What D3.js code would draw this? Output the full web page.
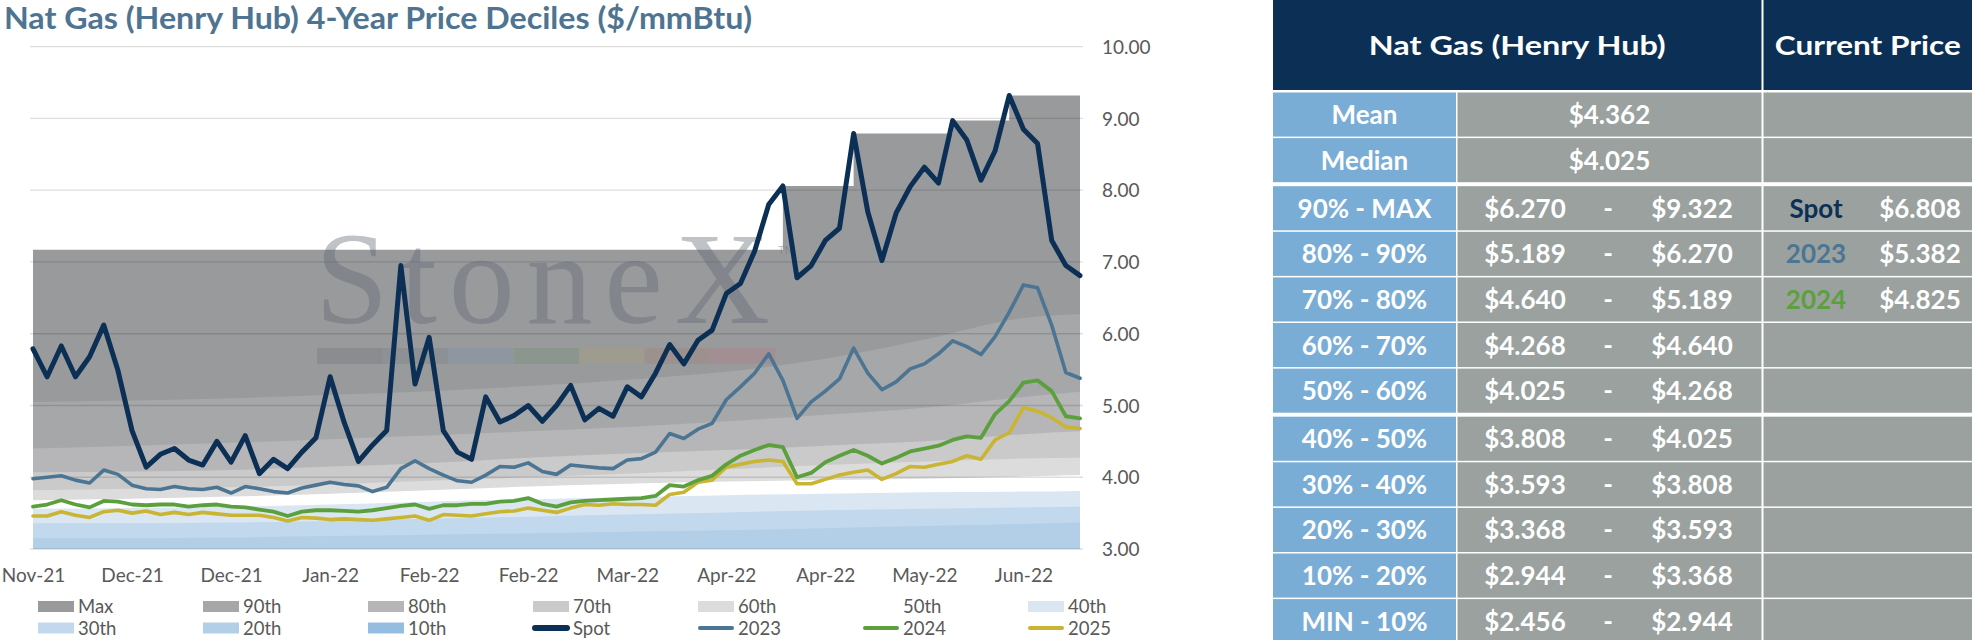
<!DOCTYPE html>
<html lang="en">
<head>
<meta charset="UTF-8">
<title>Nat Gas (Henry Hub) 4-Year Price Deciles</title>
<style>
  body { margin: 0; background: #fff; }
  svg { display: block; font-family: Lato, "Open Sans", sans-serif; }
  .grid line { stroke: rgba(0, 0, 0, 0.13); stroke-width: 1.3px; }
  .axis text { fill: #595959; font-size: 19px; font-family: Lato, sans-serif; }
  .legend text { fill: #595959; font-size: 18.5px; }
  .tbl text { fill: #fff; font-size: 26px; font-weight: 700; text-anchor: middle; }
</style>
</head>
<body>
<svg id="chart" width="1972" height="640"></svg>
<script src="https://d3js.org/d3.v7.min.js"></script>
<script>
// x is a sample index (every 2nd trading day), a tick label every 7 samples
const xTickIdx = [0, 7, 14, 21, 28, 35, 42, 49, 56, 63, 70];
const xTickLabels = ["Nov-21", "Dec-21", "Dec-21", "Jan-22", "Feb-22", "Feb-22",
                     "Mar-22", "Apr-22", "Apr-22", "May-22", "Jun-22"];
const yTicks = [3, 4, 5, 6, 7, 8, 9, 10];

const spot = [5.79, 5.40, 5.83, 5.40, 5.68, 6.12, 5.49, 4.65, 4.14, 4.32,
              4.40, 4.24, 4.17, 4.50, 4.21, 4.58, 4.05, 4.25, 4.12, 4.35,
              4.55, 5.40, 4.76, 4.22, 4.45, 4.65, 6.95, 5.30, 5.95, 4.65,
              4.35, 4.25, 5.12, 4.77, 4.86, 5.00, 4.78, 5.00, 5.28, 4.80,
              4.96, 4.85, 5.26, 5.12, 5.45, 5.85, 5.58, 5.91, 6.05, 6.56,
              6.70, 7.15, 7.80, 8.06, 6.78, 6.95, 7.30, 7.47, 8.79, 7.70,
              7.02, 7.68, 8.05, 8.32, 8.10, 8.97, 8.70, 8.14, 8.55, 9.32,
              8.85, 8.65, 7.30, 6.95, 6.81];
const y2023 = [3.98, 4.00, 4.02, 3.96, 3.92, 4.10, 4.04, 3.89, 3.84, 3.83,
               3.87, 3.84, 3.83, 3.86, 3.78, 3.87, 3.84, 3.80, 3.78, 3.85,
               3.89, 3.93, 3.90, 3.88, 3.80, 3.86, 4.12, 4.23, 4.12, 4.03,
               3.95, 3.93, 4.03, 4.15, 4.14, 4.20, 4.08, 4.04, 4.17, 4.15,
               4.13, 4.12, 4.24, 4.26, 4.35, 4.61, 4.54, 4.67, 4.75, 5.08,
               5.26, 5.45, 5.72, 5.35, 4.82, 5.05, 5.20, 5.37, 5.80, 5.45,
               5.22, 5.33, 5.51, 5.58, 5.72, 5.90, 5.82, 5.71, 5.96, 6.30,
               6.68, 6.64, 6.12, 5.46, 5.38];
const y2024 = [3.59, 3.62, 3.68, 3.62, 3.58, 3.67, 3.66, 3.62, 3.61, 3.62,
               3.62, 3.59, 3.61, 3.62, 3.59, 3.58, 3.55, 3.52, 3.46, 3.52,
               3.54, 3.54, 3.53, 3.52, 3.54, 3.57, 3.60, 3.62, 3.56, 3.61,
               3.61, 3.63, 3.63, 3.66, 3.67, 3.71, 3.63, 3.59, 3.65, 3.67,
               3.68, 3.69, 3.70, 3.71, 3.74, 3.89, 3.87, 3.96, 4.02, 4.18,
               4.30, 4.38, 4.45, 4.42, 4.00, 4.06, 4.21, 4.30, 4.38, 4.30,
               4.19, 4.27, 4.36, 4.40, 4.44, 4.52, 4.57, 4.55, 4.88, 5.06,
               5.32, 5.35, 5.20, 4.85, 4.82];
const y2025 = [3.46, 3.46, 3.52, 3.47, 3.44, 3.52, 3.54, 3.50, 3.53, 3.48,
               3.51, 3.48, 3.51, 3.49, 3.47, 3.47, 3.47, 3.44, 3.39, 3.44,
               3.43, 3.41, 3.42, 3.41, 3.40, 3.42, 3.44, 3.46, 3.40, 3.48,
               3.47, 3.46, 3.49, 3.52, 3.53, 3.57, 3.54, 3.51, 3.57, 3.62,
               3.61, 3.63, 3.62, 3.62, 3.61, 3.76, 3.79, 3.93, 3.96, 4.14,
               4.18, 4.22, 4.24, 4.22, 3.91, 3.91, 3.97, 4.03, 4.07, 4.10,
               3.97, 4.05, 4.15, 4.14, 4.18, 4.22, 4.30, 4.25, 4.52, 4.62,
               4.97, 4.92, 4.83, 4.70, 4.68];

// running 4-year max, a step series
const maxIdx = [0, 53, 58, 65, 69, 74];
const maxVals = [7.17, 8.06, 8.79, 8.97, 9.32, 9.32];

// decile levels, read at these samples
const bandIdx = [0, 7, 14, 21, 28, 35, 42, 49, 56, 63, 70, 74];
const p90 = [5.05, 5.07, 5.10, 5.15, 5.20, 5.27, 5.36, 5.47, 5.65, 5.92, 6.22, 6.27];
const p80 = [4.40, 4.44, 4.48, 4.53, 4.58, 4.64, 4.70, 4.78, 4.87, 4.97, 5.12, 5.19];
const p70 = [4.07, 4.08, 4.10, 4.15, 4.20, 4.27, 4.33, 4.38, 4.44, 4.50, 4.60, 4.64];
const p60 = [3.82, 3.84, 3.86, 3.90, 3.95, 4.00, 4.05, 4.11, 4.17, 4.22, 4.26, 4.27];
const p50 = [3.68, 3.70, 3.73, 3.77, 3.82, 3.87, 3.91, 3.94, 3.96, 3.98, 4.01, 4.03];
const p40 = [3.56, 3.57, 3.59, 3.62, 3.66, 3.69, 3.72, 3.75, 3.77, 3.79, 3.80, 3.81];
const p30 = [3.36, 3.36, 3.37, 3.39, 3.42, 3.45, 3.48, 3.51, 3.54, 3.56, 3.58, 3.59];
const p20 = [3.15, 3.15, 3.16, 3.18, 3.20, 3.22, 3.24, 3.26, 3.29, 3.32, 3.35, 3.37];
const p10 = [2.88, 2.88, 2.89, 2.89, 2.90, 2.91, 2.91, 2.92, 2.93, 2.93, 2.94, 2.94];

// table on the right
const statLabels = ["Mean", "Median"];
const statValues = [4.362, 4.025];
const decileLabels = ["90% - MAX", "80% - 90%", "70% - 80%", "60% - 70%", "50% - 60%",
                      "40% - 50%", "30% - 40%", "20% - 30%", "10% - 20%", "MIN - 10%"];
const decileLow = [6.270, 5.189, 4.640, 4.268, 4.025, 3.808, 3.593, 3.368, 2.944, 2.456];
const decileHigh = [9.322, 6.270, 5.189, 4.640, 4.268, 4.025, 3.808, 3.593, 3.368, 2.944];
const currentNames = ["Spot", "2023", "2024"];
const currentValues = [6.808, 5.382, 4.825];

const colors = {
  "Max": "#999a9c", "90th": "#a6a7a9", "80th": "#b6b6b8", "70th": "#cacaca",
  "60th": "#dcdcdc", "50th": "#ffffff", "40th": "#dae6f2", "30th": "#c2d8ec",
  "20th": "#b2cfe7", "10th": "#95bde0",
  "Spot": "#0c3055", "2023": "#4b7592", "2024": "#5ca03e", "2025": "#c9b531"
};
const lineWidth = { "Spot": 5, "2023": 3.6, "2024": 3.8, "2025": 3.6 };

const svg = d3.select("#chart");

// Title
svg.append("text")
    .attr("x", 4).attr("y", 29)
    .attr("font-size", 30).attr("font-weight", 700)
    .attr("textLength", 748).attr("lengthAdjust", "spacingAndGlyphs")
    .attr("fill", "#4e7491")
    .text("Nat Gas (Henry Hub) 4-Year Price Deciles ($/mmBtu)");

// Scales
const x = d3.scaleLinear().domain([0, spot.length - 1]).range([33, 1080]);
const y = d3.scaleLinear().domain([3, 10]).range([549, 46.7]);

svg.append("clipPath").attr("id", "plot-clip")
  .append("rect")
    .attr("x", x(0)).attr("y", 0)
    .attr("width", x(spot.length - 1) - x(0)).attr("height", y(3));

// Decile bands, painted from the top level down
const plot = svg.append("g").attr("clip-path", "url(#plot-clip)");

const maxArea = d3.area()
    .x((d, i) => x(maxIdx[i]))
    .y0(y(3))
    .y1(d => y(d))
    .curve(d3.curveStepAfter);
plot.append("path")
    .attr("d", maxArea(maxVals))
    .attr("fill", colors["Max"]);

const bands = [
  { name: "90th", vals: p90 }, { name: "80th", vals: p80 }, { name: "70th", vals: p70 },
  { name: "60th", vals: p60 }, { name: "50th", vals: p50 }, { name: "40th", vals: p40 },
  { name: "30th", vals: p30 }, { name: "20th", vals: p20 }, { name: "10th", vals: p10 }
];
const bandArea = d3.area()
    .x((d, i) => x(bandIdx[i]))
    .y0(y(3))
    .y1(d => y(d))
    .curve(d3.curveMonotoneX);
plot.selectAll(".band")
  .data(bands)
  .enter().append("path")
    .attr("class", "band")
    .attr("d", d => bandArea(d.vals))
    .attr("fill", d => colors[d.name]);

// Gridlines
svg.append("g").attr("class", "grid")
  .selectAll("line")
  .data(yTicks)
  .enter().append("line")
    .attr("x1", 30).attr("x2", 1083)
    .attr("y1", d => y(d)).attr("y2", d => y(d));

// Watermark
const mark = svg.append("g");
mark.append("text")
    .attr("x", 315).attr("y", 323)
    .attr("font-family", "'Liberation Serif', 'DejaVu Serif', serif")
    .attr("font-size", 132)
    .attr("textLength", 455).attr("lengthAdjust", "spacing")
    .attr("fill", "#5f6a75").attr("fill-opacity", 0.4)
    .text("StoneX");
mark.append("text")
    .attr("x", 778).attr("y", 254)
    .attr("font-size", 11)
    .attr("fill", "#5f6a75").attr("fill-opacity", 0.4)
    .text("TM");
const barColors = ["#8a8c8f", "#8d9094", "#8e979f", "#8b968f", "#9e9c8f", "#9c918f", "#a28f93"];
mark.selectAll("rect")
  .data(barColors)
  .enter().append("rect")
    .attr("x", (d, i) => 317 + i * 65.5)
    .attr("y", 348)
    .attr("width", 65.5).attr("height", 16)
    .attr("fill", d => d);

// Price lines
const line = d3.line()
    .x((d, i) => x(i))
    .y(d => y(d));
const series = [
  { name: "2025", vals: y2025 }, { name: "2024", vals: y2024 },
  { name: "2023", vals: y2023 }, { name: "Spot", vals: spot }
];
svg.selectAll(".series")
  .data(series)
  .enter().append("path")
    .attr("class", "series")
    .attr("d", d => line(d.vals))
    .attr("fill", "none")
    .attr("stroke", d => colors[d.name])
    .attr("stroke-width", d => lineWidth[d.name])
    .attr("stroke-linejoin", "round")
    .attr("stroke-linecap", "round");

// Axes
const yAxis = svg.append("g")
    .attr("class", "axis")
    .attr("transform", "translate(1102,0)")
    .call(d3.axisRight(y).tickValues(yTicks).tickFormat(d3.format(".2f")).tickSize(0).tickPadding(0));
yAxis.select(".domain").remove();
yAxis.selectAll("text").attr("dy", "0.35em");

const xAxis = svg.append("g")
    .attr("class", "axis")
    .attr("transform", "translate(0,568)")
    .call(d3.axisBottom(x).tickValues(xTickIdx).tickFormat((d, i) => xTickLabels[i]).tickSize(0).tickPadding(0));
xAxis.select(".domain").remove();
xAxis.selectAll("text").attr("font-size", 19);

// Legend
const legendNames = ["Max", "90th", "80th", "70th", "60th", "50th", "40th",
                     "30th", "20th", "10th", "Spot", "2023", "2024", "2025"];
const legend = svg.append("g").attr("class", "legend");
legendNames.forEach((name, k) => {
  const col = k % 7, row = Math.floor(k / 7);
  const g = legend.append("g")
      .attr("transform", `translate(${38 + col * 165},${606.5 + row * 21.5})`);
  if (lineWidth[name]) {
    g.append("line")
        .attr("x1", 2).attr("x2", 34)
        .attr("stroke", colors[name])
        .attr("stroke-width", name === "Spot" ? 6 : 4)
        .attr("stroke-linecap", "round");
  } else {
    g.append("rect")
        .attr("x", 0).attr("y", -5.5)
        .attr("width", 36).attr("height", 11)
        .attr("fill", colors[name]);
  }
  g.append("text").attr("x", 40).attr("y", 6.5).text(name);
});

// Table
const tbl = svg.append("g").attr("class", "tbl");
const navy = "#0c3055", blue = "#7aadd6", grey = "#9aa19f";
const colL = 1273, colA = 1456, colB = 1457.5, colC = 1761.5, colD = 1763.5, colR = 1972;
const fmt = d3.format("$.3f");

tbl.append("rect").attr("x", colL).attr("y", 0).attr("width", colC - colL).attr("height", 90).attr("fill", navy);
tbl.append("rect").attr("x", colD).attr("y", 0).attr("width", colR - colD).attr("height", 90).attr("fill", navy);
tbl.append("text").attr("x", (colL + colC) / 2).attr("y", 55).attr("font-size", 31)
    .attr("textLength", 297).attr("lengthAdjust", "spacingAndGlyphs").text("Nat Gas (Henry Hub)");
tbl.append("text").attr("x", (colD + colR) / 2).attr("y", 55).attr("font-size", 31)
    .attr("textLength", 186).attr("lengthAdjust", "spacingAndGlyphs").text("Current Price");

const rows = statLabels.map((lab, i) => ({ label: lab, mid: fmt(statValues[i]) }))
  .concat(decileLabels.map((lab, i) => ({ label: lab, low: fmt(decileLow[i]), high: fmt(decileHigh[i]) })));
currentNames.forEach((n, i) => { rows[2 + i].cur = n; rows[2 + i].curVal = fmt(currentValues[i]); });

const pitch = 45.6;
rows.forEach((r, i) => {
  const top = 92.5 + i * pitch + (i >= 2 ? 2.5 : 0) + (i >= 7 ? 2.5 : 0);
  const h = pitch - 1.5, base = top + h / 2 + 9.5;
  tbl.append("rect").attr("x", colL).attr("y", top).attr("width", colA - colL).attr("height", h).attr("fill", blue);
  tbl.append("rect").attr("x", colB).attr("y", top).attr("width", colC - colB).attr("height", h).attr("fill", grey);
  tbl.append("rect").attr("x", colD).attr("y", top).attr("width", colR - colD).attr("height", h).attr("fill", grey);
  tbl.append("text").attr("x", (colL + colA) / 2).attr("y", base).text(r.label);
  if (r.mid) {
    tbl.append("text").attr("x", (colB + colC) / 2).attr("y", base).text(r.mid);
  } else {
    tbl.append("text").attr("x", 1525).attr("y", base).text(r.low);
    tbl.append("text").attr("x", 1608).attr("y", base).text("-");
    tbl.append("text").attr("x", 1692).attr("y", base).text(r.high);
  }
  if (r.cur) {
    tbl.append("text").attr("x", 1816).attr("y", base).style("fill", colors[r.cur]).text(r.cur);
    tbl.append("text").attr("x", 1920).attr("y", base).text(r.curVal);
  }
});
</script>
</body>
</html>
